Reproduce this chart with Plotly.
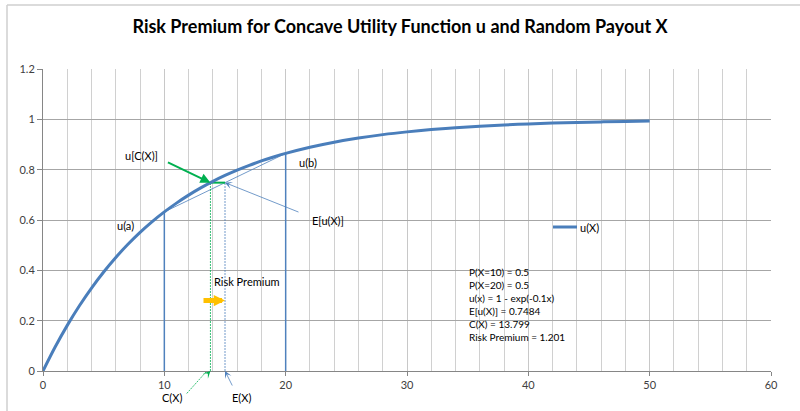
import plotly.graph_objects as go

# ---- data ----
x_vals = [0, 1, 2, 3, 4, 5, 6, 7, 8, 9, 10, 11, 12, 13, 14, 15, 16, 17, 18, 19, 20,
          22, 24, 26, 28, 30, 32, 34, 36, 38, 40, 42, 44, 46, 48, 50]
u_vals = [0.0, 0.0952, 0.1813, 0.2592, 0.3297, 0.3935, 0.4512, 0.5034, 0.5507, 0.5934,
          0.6321, 0.6671, 0.6988, 0.7275, 0.7534, 0.7769, 0.7981, 0.8173, 0.8347, 0.8504,
          0.8647, 0.8892, 0.9093, 0.9257, 0.9392, 0.9502, 0.9592, 0.9666, 0.9727, 0.9776,
          0.9817, 0.9850, 0.9877, 0.9899, 0.9918, 0.9933]
a_x, b_x = 10, 20
u_a, u_b = 0.6321, 0.8647
E_u = 0.7484
C_x = 13.799
E_x = 15
info_lines = ["P(X=10) = 0.5", "P(X=20) = 0.5", "u(x) = 1 - exp(-0.1x)",
              "E[u(X)] = 0.7484", "C(X) = 13.799", "Risk Premium = 1.201"]
x_ticks = [0, 10, 20, 30, 40, 50, 60]
y_ticks = [0, 0.2, 0.4, 0.6, 0.8, 1, 1.2]

FONT = "Lato"
BLUE = "#4A7EBB"
THIN = "#4F81BD"
GREEN = "#00B050"
TXT = "#404040"

# plot-area pixel geometry (for paper-referenced decorations)
L, R, T, B = 43, 771, 69, 371
def px(xp):
    return (xp - L) / (R - L)
def py(yp):
    return (B - yp) / (B - T)

fig = go.Figure()

def seg(xs, ys, color, width, dash="solid"):
    fig.add_trace(go.Scatter(x=xs, y=ys, mode="lines", line=dict(color=color, width=width, dash=dash),
                             showlegend=False, hoverinfo="skip"))

seg([a_x, a_x], [0, u_a], THIN, 1.5)
seg([b_x, b_x], [0, u_b], THIN, 1.5)
seg([a_x, b_x], [u_a, u_b], THIN, 0.8)
seg([C_x, C_x], [0, E_u], GREEN, 0.8, "2px,1px")
seg([E_x, E_x], [0, E_u], THIN, 0.8, "2px,1px")
seg([C_x, E_x], [E_u, E_u], GREEN, 2)

fig.add_trace(go.Scatter(x=x_vals, y=u_vals, mode="lines", name="u(X)",
                         line=dict(color=BLUE, width=3, shape="spline"), showlegend=False))

ann = []
def label(x, y, t, size=11, **kw):
    d = dict(x=x, y=y, text=t, showarrow=False, xanchor="center", yanchor="middle",
             font=dict(family=FONT, size=size, color="#000000"))
    d.update(kw)
    ann.append(d)

label(6.84, 0.58, "u(a)")
label(21.8, 0.83, "u(b)")
label(8.1, 0.858, "u[C(X)]")
label(23.45, 0.60, "E[u(X)]")
label(16.78, 0.354, "Risk Premium")
label(px(172), py(398), "C(X)", xref="paper", yref="paper")
label(px(242), py(398), "E(X)", xref="paper", yref="paper")

# arrows
ann.append(dict(x=C_x, y=E_u, ax=-44, ay=-21, text="", showarrow=True,
                arrowhead=2, arrowsize=1, arrowwidth=2, arrowcolor=GREEN))
ann.append(dict(x=E_x, y=E_u, ax=75, ay=30, text="", showarrow=True,
                arrowhead=3, arrowsize=1.5, arrowwidth=0.8, arrowcolor=THIN))
ann.append(dict(x=C_x, y=0, ax=-4, ay=4, text="", showarrow=True,
                arrowhead=3, arrowsize=1.5, arrowwidth=0.8, arrowcolor=GREEN))
ann.append(dict(x=E_x, y=0, ax=8, ay=16, text="", showarrow=True,
                arrowhead=3, arrowsize=1.5, arrowwidth=0.8, arrowcolor=THIN))
ann.append(dict(x=E_x, y=0.28, ax=-23, ay=0, text="", showarrow=True,
                arrowhead=2, arrowsize=0.45, arrowwidth=5, arrowcolor="#FFC000"))

# info block
ann.append(dict(x=px(467), y=py(264), xref="paper", yref="paper",
                xanchor="left", yanchor="top", align="left", showarrow=False,
                text="<br>".join(info_lines), font=dict(family=FONT, size=10, color="#000000")))
# legend text
ann.append(dict(x=px(578), y=py(227), xref="paper", yref="paper",
                xanchor="left", yanchor="middle", showarrow=False, text="u(X)",
                font=dict(family=FONT, size=11, color="#000000")))

shapes = [
    dict(type="line", xref="paper", yref="paper", x0=px(553), x1=px(577),
         y0=py(227), y1=py(227), line=dict(color=BLUE, width=3)),
    dict(type="line", xref="paper", yref="paper", x0=px(186.7), x1=px(206),
         y0=py(393.5), y1=py(372), line=dict(color=GREEN, width=0.8, dash="2px,1px")),
    # chart frame (left and top edges visible)
    dict(type="line", xref="paper", yref="paper", x0=px(7), x1=px(7),
         y0=py(411), y1=py(5), line=dict(color="#CFCFCF", width=1.5)),
    dict(type="line", xref="paper", yref="paper", x0=px(7), x1=px(800),
         y0=py(5), y1=py(5), line=dict(color="#CFCFCF", width=1.5)),
]

fig.update_layout(
    width=800, height=411,
    margin=dict(l=L, r=800 - R, t=T, b=411 - B),
    paper_bgcolor="white", plot_bgcolor="white",
    title=dict(text="<b>Risk Premium for Concave Utility Function u and Random Payout X</b>",
               x=0.5, xanchor="center", y=1 - 27 / 411, yanchor="middle",
               font=dict(family=FONT, size=18, color="#000000")),
    annotations=ann, shapes=shapes,
    xaxis=dict(range=[0, 60], tickvals=x_ticks, showgrid=True, gridcolor="#C8C8C8", gridwidth=1,
               minor=dict(dtick=2, showgrid=True, gridcolor="#D0D0D0", gridwidth=1),
               showline=True, linecolor="#868686", linewidth=1,
               ticks="outside", ticklen=4, tickcolor="#868686", zeroline=False,
               tickfont=dict(family=FONT, size=11, color=TXT)),
    yaxis=dict(range=[0, 1.2], tickvals=y_ticks, showgrid=True, gridcolor="#A6A6A6", gridwidth=1,
               showline=True, linecolor="#868686", linewidth=1,
               ticks="outside", ticklen=5, tickcolor="#868686", zeroline=False,
               tickfont=dict(family=FONT, size=11, color=TXT)),
    showlegend=False,
)

fig.write_html("out.html", config={"displayModeBar": False},
               post_script="document.body.style.margin='0';")
